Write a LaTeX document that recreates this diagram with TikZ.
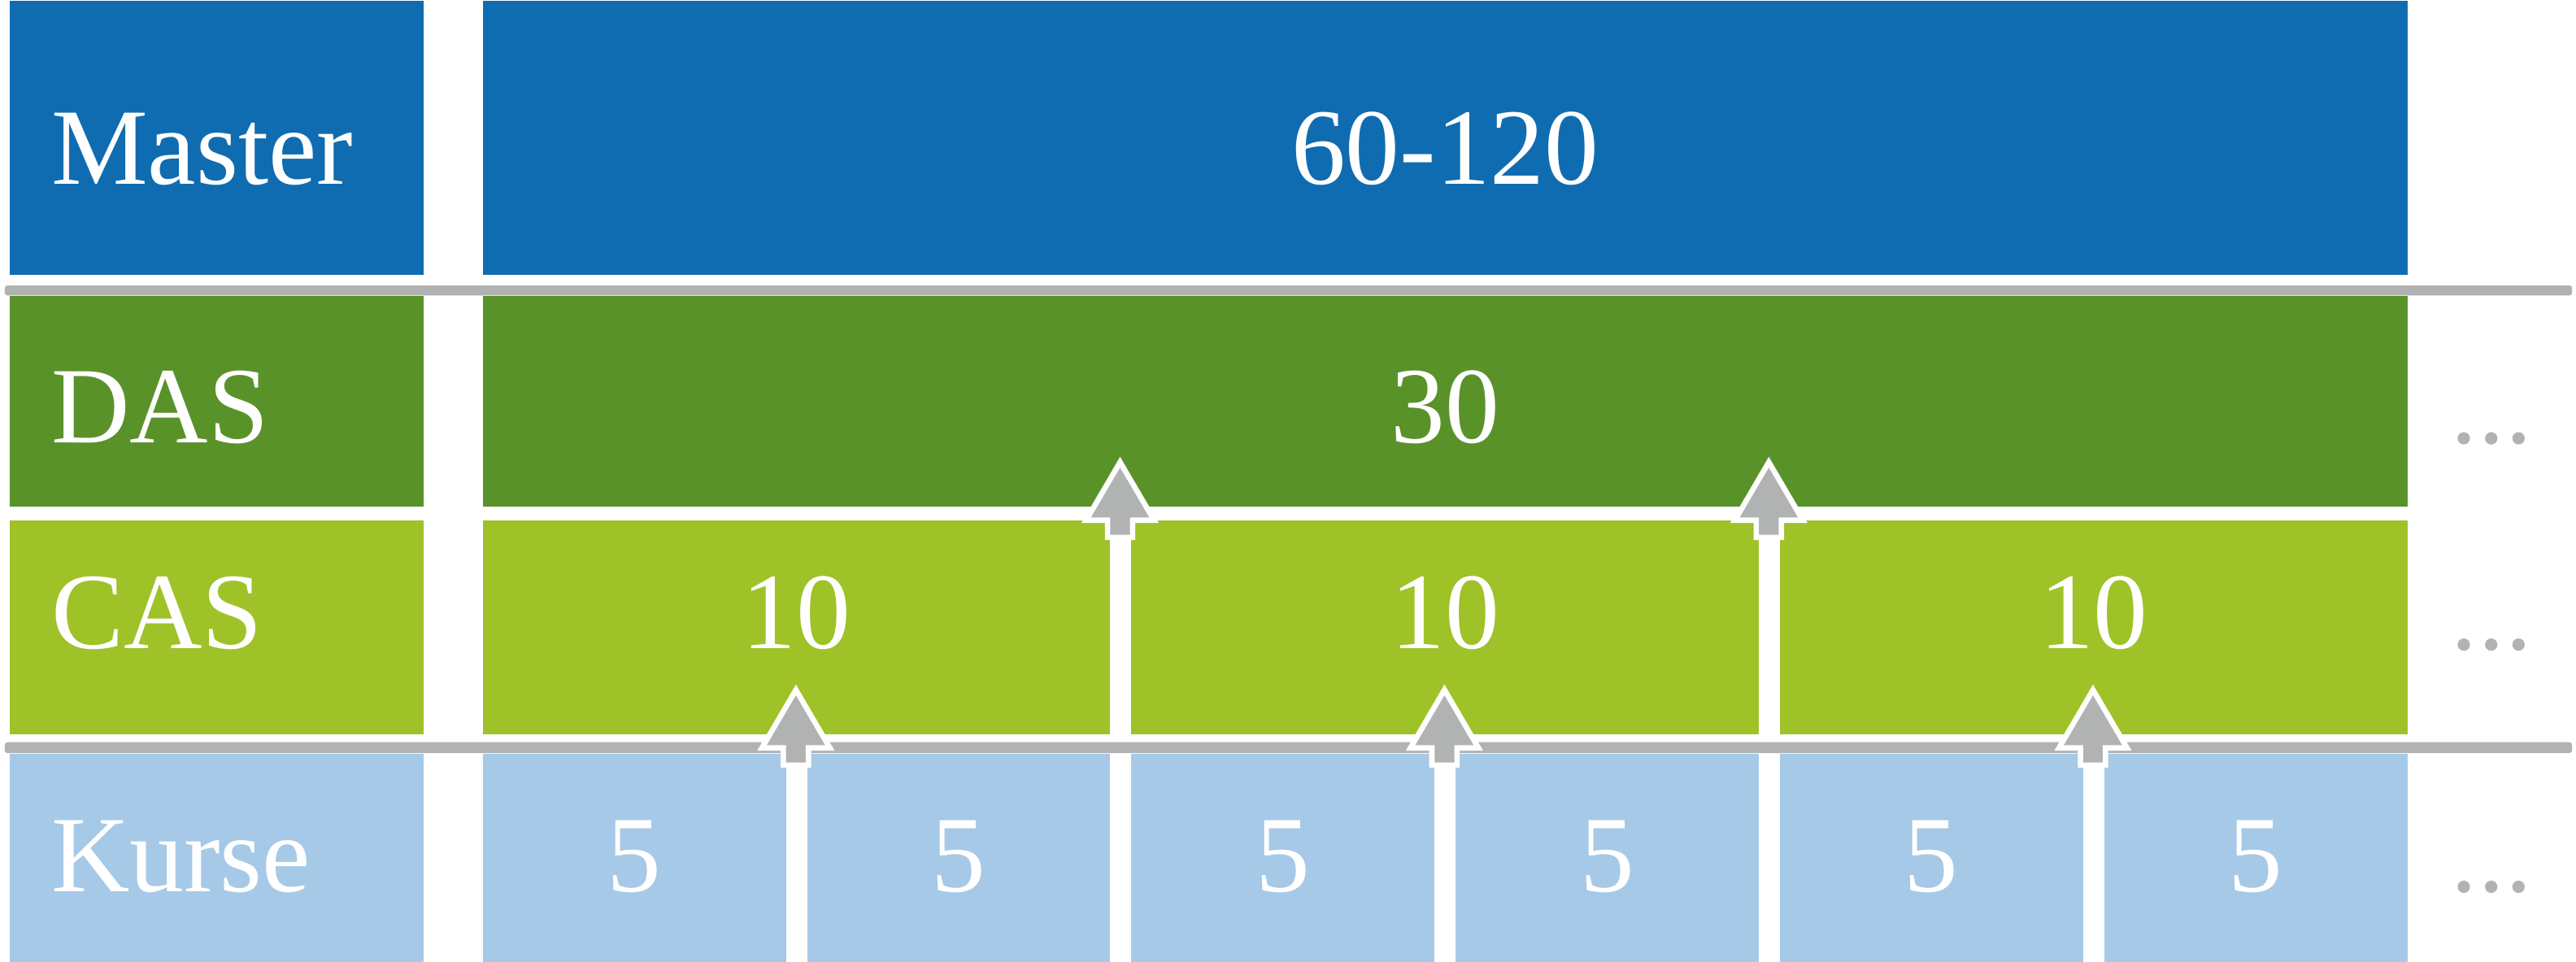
\documentclass[tikz,border=0pt]{standalone}
\usepackage{fontspec}
\setmainfont{Liberation Serif}
\definecolor{bleu}{HTML}{106CB0}
\definecolor{vertfonce}{HTML}{5A922A}
\definecolor{vertclair}{HTML}{9EC228}
\definecolor{bleuclair}{HTML}{A6C9E8}
\definecolor{gris}{HTML}{B1B3B3}
\tikzset{
    bloc/.style={rectangle, inner sep=0pt, anchor=north west},
    texte/.style={text=white, inner sep=0pt, font=\fontsize{38}{40}\selectfont},
    etiquette/.style={texte, anchor=base west},
    chiffre/.style={texte, anchor=base},
    fleche/.pic={
      \filldraw[fill=gris, draw=white, line width=0.066cm]
        (0,0) -- (0.418,-0.714) -- (0.154,-0.714) -- (0.154,-0.925)
        -- (-0.154,-0.925) -- (-0.154,-0.714) -- (-0.418,-0.714) -- cycle;
    },
  }

\begin{document}
\begin{tikzpicture}
				  \useasboundingbox (0,0) rectangle (31.68,-11.83);
				  %colonne des titres
				  \node[bloc, fill=bleu, minimum width=5.09cm, minimum height=3.377cm] (lmaster) at (0.11,0) {};
				  \node[bloc, fill=vertfonce, minimum width=5.09cm, minimum height=2.594cm] (ldas) at (0.11,-3.633) {};
				  \node[bloc, fill=vertclair, minimum width=5.09cm, minimum height=2.637cm] (lcas) at (0.11,-6.39) {};
				  \node[bloc, fill=bleuclair, minimum width=5.09cm, minimum height=2.57cm] (lkurse) at (0.11,-9.26) {};
				  \node[etiquette] (tmaster) at ([xshift=0.515cm, yshift=-2.267cm]lmaster.north west) {Master};
				  \node[etiquette] (tdas) at ([xshift=0.515cm, yshift=-1.81cm]ldas.north west) {DAS};
				  \node[etiquette] (tcas) at ([xshift=0.515cm, yshift=-1.587cm]lcas.north west) {CAS};
				  \node[etiquette] (tkurse) at ([xshift=0.515cm, yshift=-1.70cm]lkurse.north west) {Kurse};

				  %lignes grises
				  \fill[gris, rounded corners=0.03cm] (0.06,-3.51) rectangle (31.63,-3.633);
				  \fill[gris, rounded corners=0.03cm] (0.06,-9.127) rectangle (31.63,-9.26);

				  %blocs
				  \node[bloc, fill=bleu, minimum width=23.67cm, minimum height=3.377cm] (master) at (5.93,0) {};
				  \node[chiffre] (nmaster) at ([yshift=-2.267cm]master.north) {60-120};
				  \node[bloc, fill=vertfonce, minimum width=23.67cm, minimum height=2.594cm] (das) at (5.93,-3.633) {};
				  \node[chiffre] (ndas) at ([yshift=-1.81cm]das.north) {30};
				  \foreach \i in {0,1,2}{
				    \node[bloc, fill=vertclair, minimum width=7.717cm, minimum height=2.637cm] (cas\i) at ({5.93+\i*7.977},-6.39) {};
				    \node[chiffre] (ncas\i) at ([yshift=-1.587cm]cas\i.north) {10};
				  }
				  \foreach \i in {0,...,5}{
				    \node[bloc, fill=bleuclair, minimum width=3.728cm, minimum height=2.57cm] (kurse\i) at ({5.93+\i*3.988},-9.26) {};
				    \node[chiffre] (nkurse\i) at ([yshift=-1.70cm]kurse\i.north) {5};
				  }

				  %fleches
				  \foreach \x in {13.775,21.753} \pic at (\x,-5.683) {fleche};
				  \foreach \x in {9.788,17.764,25.74} \pic at (\x,-8.483) {fleche};

				  %points de suite
				  \foreach \y in {-5.39,-7.927,-10.905}
				    \foreach \x in {30.30,30.637,30.973}
				      \fill[gris] (\x,\y) circle (0.076);
				  \end{tikzpicture}
\end{document}
